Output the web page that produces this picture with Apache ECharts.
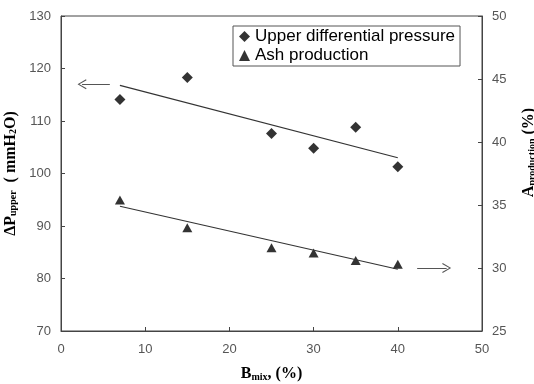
<!DOCTYPE html>
<html><head><meta charset="utf-8">
<script src="https://cdn.jsdelivr.net/npm/echarts@6/dist/echarts.min.js"></script>
<style>html,body{margin:0;padding:0;background:#fff}#c{width:534px;height:384px}</style>
</head><body><div id="c"></div>
<script>
const bmix = [7, 15, 25, 30, 35, 40];
const upperPressure = [114.1, 118.3, 107.6, 104.8, 108.8, 101.3];
const ashProduction = [35.4, 33.2, 31.6, 31.2, 30.6, 30.3];
const pressureTrendX = [7, 40];
const pressureTrendY = [116.8, 103.0];
const ashTrendX = [7, 40];
const ashTrendY = [34.9, 29.9];
const leftArrowX = [5.8, 2.5];
const leftArrowY = 117;
const rightArrowX = [42.3, 45.8];
const rightArrowY = 30;
const xTicks = [0, 10, 20, 30, 40, 50];

const chev = 'path://M5,0 L10,9 L9,9.6 L5,2 L1,9.6 L0,9 Z';
const zip = (a, b) => a.map((v, i) => [v, b[i]]);
const serif = '"Liberation Serif","Times New Roman",serif';
const sans = '"Liberation Sans",Arial,sans-serif';
const nameRich = {
  b: {fontFamily: serif, fontWeight: 'bold', fontSize: 16, color: '#000', verticalAlign: 'bottom', lineHeight: 20},
  s: {fontFamily: serif, fontWeight: 'bold', fontSize: 10, color: '#000', verticalAlign: 'bottom', lineHeight: 15}
};

const chart = echarts.init(document.getElementById('c'), null, {renderer: 'canvas'});
chart.setOption({
  animation: false,
  grid: {left: 61, right: 52, top: 16, bottom: 53, show: true, borderColor: '#444', borderWidth: 1,
    containLabel: false, outerBoundsMode: 'none'},
  legend: {
    left: 233, top: 26, orient: 'vertical',
    borderColor: '#555', borderWidth: 1, padding: [2, 5, 2, 6], itemGap: 2,
    itemWidth: 11, itemHeight: 11,
    textStyle: {fontFamily: sans, fontSize: 17, color: '#000'},
    data: ['Upper differential pressure', 'Ash production']
  },
  xAxis: {
    type: 'value', min: 0, max: 50, interval: 10,
    axisLine: {lineStyle: {color: '#444'}},
    axisTick: {inside: true, length: 4, lineStyle: {color: '#444'}},
    splitLine: {show: false},
    axisLabel: {color: '#555', fontFamily: sans, fontSize: 13, margin: 12,
      formatter: v => xTicks.includes(v) ? String(v) : ''},
    name: '{b|B}{s|mix}{b|, (%)}', nameLocation: 'middle', nameGap: 31,
    nameTextStyle: {rich: nameRich}
  },
  yAxis: [{
    type: 'value', min: 70, max: 130, interval: 10,
    axisLine: {show: true, lineStyle: {color: '#444'}},
    axisTick: {show: true, inside: true, length: 4, lineStyle: {color: '#444'}},
    splitLine: {show: false},
    axisLabel: {color: '#555', fontFamily: sans, fontSize: 13, margin: 10},
    name: '{b|ΔP}{s|upper}{b|  ( mmH}{s|2}{b|O)}', nameLocation: 'middle', nameGap: 37, nameRotate: 90,
    nameTextStyle: {rich: nameRich}
  }, {
    type: 'value', min: 25, max: 50, interval: 5, position: 'right',
    axisLine: {show: true, lineStyle: {color: '#444'}},
    axisTick: {show: true, inside: true, length: 4, lineStyle: {color: '#444'}},
    splitLine: {show: false},
    axisLabel: {color: '#555', fontFamily: sans, fontSize: 13, margin: 10},
    name: '{b|A}{s|production}{b| (%)}', nameLocation: 'middle', nameGap: 35, nameRotate: 90,
    nameTextStyle: {padding: [0, 0, 0, 42], rich: nameRich}
  }],
  series: [
    {name: 'Upper differential pressure', type: 'scatter', yAxisIndex: 0,
      symbol: 'diamond', symbolSize: [11, 11], itemStyle: {color: '#000'},
      data: zip(bmix, upperPressure)},
    {name: 'Ash production', type: 'scatter', yAxisIndex: 1,
      symbol: 'triangle', symbolSize: [10, 9], itemStyle: {color: '#000'},
      data: zip(bmix, ashProduction)},
    {name: 'pTrend', type: 'line', yAxisIndex: 0, symbol: 'none', silent: true,
      lineStyle: {color: '#333', width: 1.2},
      data: zip(pressureTrendX, pressureTrendY),
      markLine: {silent: true, symbol: ['none', chev], symbolSize: [10, 9],
        lineStyle: {color: '#555', width: 1, type: 'solid'}, label: {show: false},
        data: [[{coord: [leftArrowX[0], leftArrowY]}, {coord: [leftArrowX[1], leftArrowY]}]]}},
    {name: 'aTrend', type: 'line', yAxisIndex: 1, symbol: 'none', silent: true,
      lineStyle: {color: '#333', width: 1.2},
      data: zip(ashTrendX, ashTrendY),
      markLine: {silent: true, symbol: ['none', chev], symbolSize: [10, 9],
        lineStyle: {color: '#555', width: 1, type: 'solid'}, label: {show: false},
        data: [[{coord: [rightArrowX[0], rightArrowY]}, {coord: [rightArrowX[1], rightArrowY]}]]}}
  ]
});
</script></body></html>
